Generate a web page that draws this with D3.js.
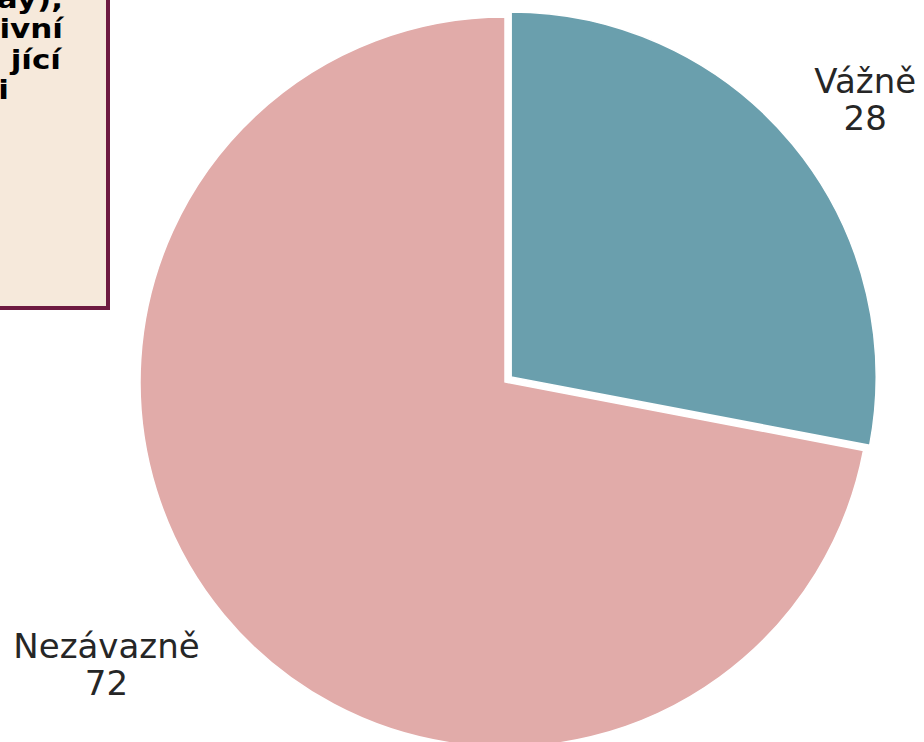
<!DOCTYPE html>
<html><head><meta charset="utf-8">
<script src="https://cdn.jsdelivr.net/npm/d3@7"></script>
<style>html,body{margin:0;padding:0;background:#fff;overflow:hidden}</style>
</head><body>
<svg id="c" width="924" height="742"></svg>
<script>
const categories = ["Vážně", "Nezávazně"];
const values = [28, 72];
const colors = ["#6a9fad", "#e1aba9"];
const titleLines = ["ay),", "ivní", "jící", "i"];

const svg = d3.select("#c");
const cx = 505, cy = 382, R = 365;

// title box (partly off-canvas)
svg.append("rect").attr("x", -300).attr("y", -300).attr("width", 408).attr("height", 608)
  .attr("fill", "#f6e9db").attr("stroke", "#6e1a40").attr("stroke-width", 4);
const sx = 1.15;
const rightEdges = [63, 63, 61, 9];
svg.append("g").attr("transform", `scale(${sx},1)`)
  .selectAll("text").data(titleLines).join("text")
  .attr("x", (d, i) => rightEdges[i] / sx)
  .attr("y", (d, i) => 8 + i * 30.5)
  .attr("text-anchor", "end")
  .attr("font-family", "DejaVu Sans").attr("font-weight", "bold").attr("font-size", 27)
  .attr("fill", "#000").text(d => d);

const pie = d3.pie().sort(null).value(d => d)(values);
const arc = d3.arc().innerRadius(0).outerRadius(R);
const g = svg.append("g").attr("transform", `translate(${cx},${cy})`);
const explode = [8, 0];

g.selectAll("path").data(pie).join("path")
  .attr("d", arc)
  .attr("transform", (d, i) => {
    const a = (d.startAngle + d.endAngle) / 2;
    return `translate(${Math.sin(a) * explode[i]},${-Math.cos(a) * explode[i]})`;
  })
  .attr("fill", (d, i) => colors[i])
  .attr("stroke", "#fff").attr("stroke-width", 1.5);

const lr = R * 1.1;
pie.forEach((d, i) => {
  const a = (d.startAngle + d.endAngle) / 2;
  const x = Math.sin(a) * lr, y = -Math.cos(a) * lr;
  const t = g.append("text").attr("font-family", "DejaVu Sans").attr("font-size", 34)
    .attr("fill", "#262626").attr("text-anchor", "middle");
  const t1 = t.append("tspan").text(categories[i]);
  const w = t1.node().getComputedTextLength();
  const mx = x > 0 ? x + w / 2 : x - w / 2 + 4;
  const by = y < 0 ? y - 33 : y + 20;
  t1.attr("x", mx).attr("y", by);
  t.append("tspan").attr("x", mx).attr("y", by + 37).text(values[i]);
});
</script>
</body></html>
